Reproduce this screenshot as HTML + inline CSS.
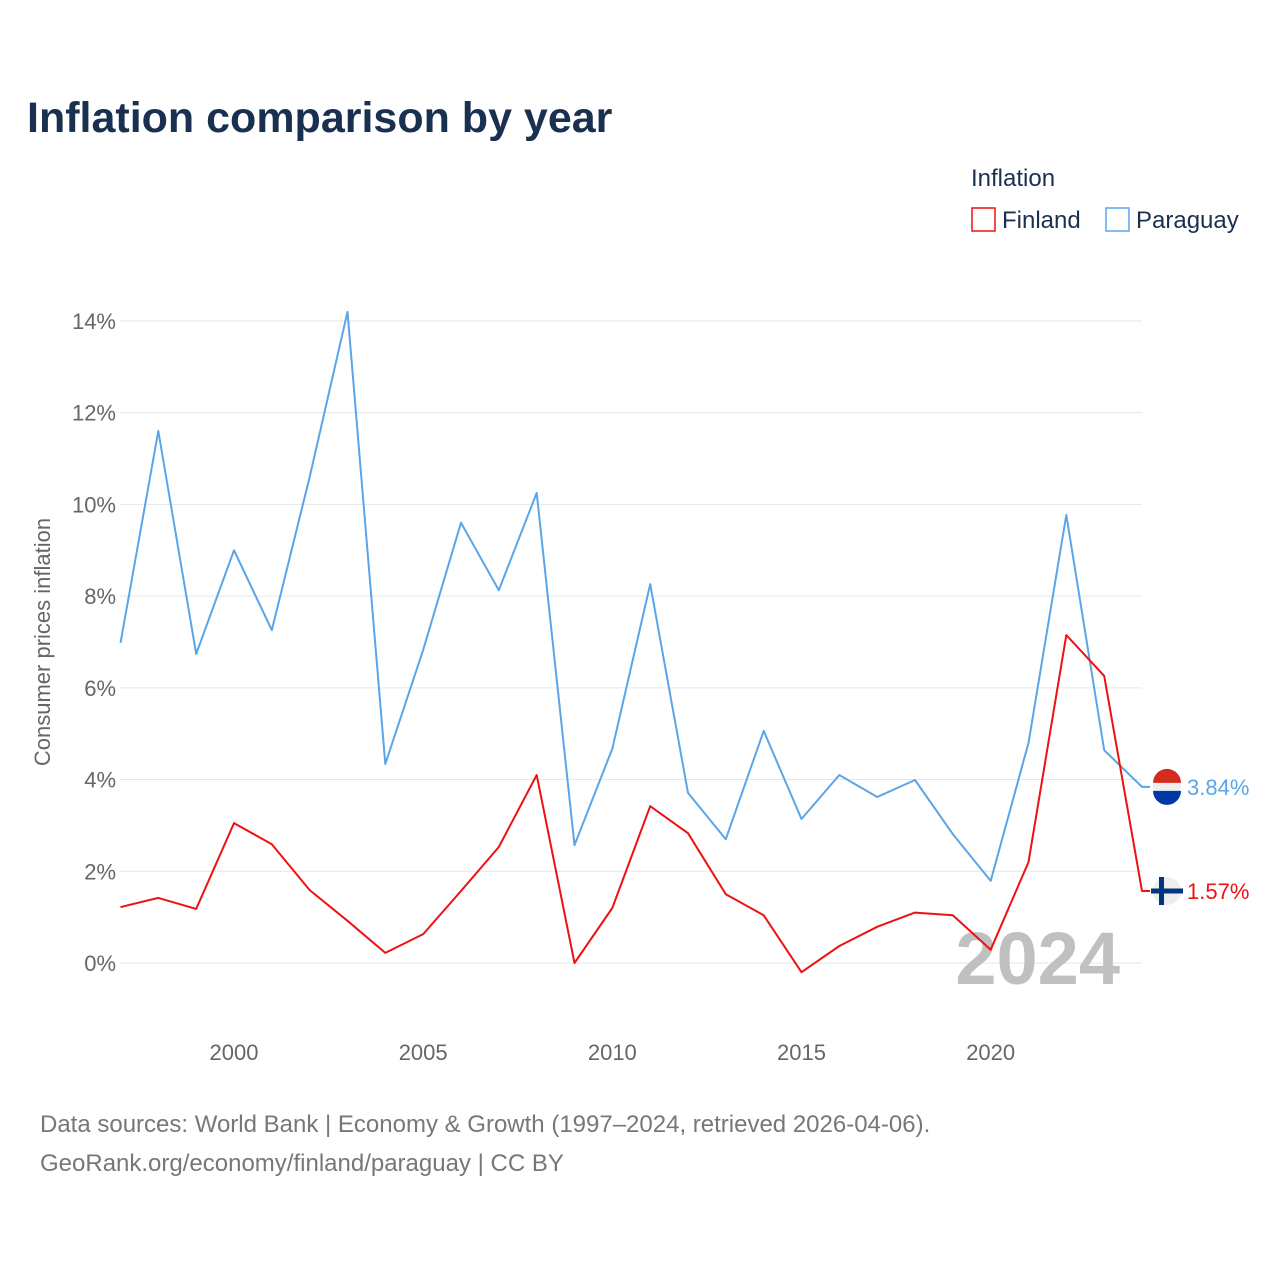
<!DOCTYPE html>
<html><head><meta charset="utf-8"><style>
body{margin:0;background:#fff;font-family:"Liberation Sans",sans-serif;}
svg text{font-family:"Liberation Sans",sans-serif;}
</style></head><body>
<svg id="chart" width="1280" height="1280" viewBox="0 0 1280 1280">
<text x="27" y="132" font-size="43" font-weight="bold" fill="#1a3050">Inflation comparison by year</text>
<text x="971" y="186" font-size="24" fill="#1a3050">Inflation</text>
<g><rect x="972" y="208" width="23" height="23" fill="none" stroke="#ee1111" stroke-width="1.5"/><text x="1002" y="228" font-size="24" fill="#1a3050">Finland</text></g>
<g><rect x="1106" y="208" width="23" height="23" fill="none" stroke="#5aa5e8" stroke-width="1.5"/><text x="1136" y="228" font-size="24" fill="#1a3050">Paraguay</text></g>
<text transform="translate(50,642) rotate(-90)" text-anchor="middle" font-size="22" fill="#666">Consumer prices inflation</text>
<g id="grid"></g><g id="yticks"></g><g id="xticks"></g>
<text x="1120" y="984" text-anchor="end" font-size="74" font-weight="bold" fill="#c0c0c0">2024</text>
<g id="series"></g>
<text x="40" y="1132" font-size="24" fill="#777">Data sources: World Bank | Economy &amp; Growth (1997–2024, retrieved 2026-04-06).</text>
<text x="40" y="1171" font-size="24" fill="#777">GeoRank.org/economy/finland/paraguay | CC BY</text>
</svg>
<script>
const years=[1997,1998,1999,2000,2001,2002,2003,2004,2005,2006,2007,2008,2009,2010,2011,2012,2013,2014,2015,2016,2017,2018,2019,2020,2021,2022,2023,2024];
const paraguay=[6.98,11.6,6.74,9.0,7.26,10.6,14.2,4.34,6.83,9.6,8.13,10.25,2.57,4.67,8.26,3.71,2.7,5.06,3.14,4.1,3.62,3.99,2.81,1.79,4.8,9.77,4.64,3.84];
const finland=[1.22,1.42,1.18,3.05,2.59,1.59,0.92,0.22,0.63,1.57,2.53,4.1,0.0,1.2,3.42,2.83,1.5,1.04,-0.2,0.37,0.79,1.1,1.04,0.29,2.2,7.15,6.26,1.57];
const yTicks=[0,2,4,6,8,10,12,14];
const xTicks=[2000,2005,2010,2015,2020];
const NS="http://www.w3.org/2000/svg";
const x=v=>120.5+(v-1997)*(1142-120.5)/27;
const y=v=>963-v*45.86;
function mk(tag,attrs,parent){const e=document.createElementNS(NS,tag);for(const k in attrs)e.setAttribute(k,attrs[k]);document.getElementById(parent).appendChild(e);return e;}
yTicks.forEach(t=>{
 const l=mk('line',{x1:120,x2:1142,y1:y(t),y2:y(t),stroke:'#e6e6e6','stroke-width':1},'grid');
 
 
 const tx=mk('text',{x:116,y:y(t)+8,'text-anchor':'end','font-size':22,fill:'#666'},'yticks');
 tx.textContent=t+'%';
 
 
});
xTicks.forEach(t=>{
 const tx=mk('text',{x:x(t),y:1060,'text-anchor':'middle','font-size':22,fill:'#666'},'xticks');
 tx.textContent=t;
 
 
});
function series(vals,color,name){
 const d=vals.map((v,i)=>(i?'L':'M')+x(years[i]).toFixed(1)+','+y(v).toFixed(1)).join('')+'L'+(x(2024)+8)+','+y(vals[vals.length-1]).toFixed(1);
 const p=mk('path',{d:d,fill:'none',stroke:color,'stroke-width':2,'stroke-linejoin':'round'},'series');
 
 
 const last=vals[vals.length-1], cy=y(last);
 const c=mk('circle',{cx:1167,cy:cy,r:14,fill:'#eee'},'series');
 
 
 const t=mk('text',{x:1187,y:cy+8,'font-size':22,fill:color},'series');
 t.textContent=last.toFixed(2)+'%';
 
 
 return cy;
}
const cyP=series(paraguay,'#5aa5e8','paraguay');
const cyF=series(finland,'#ee1111','finland');
mk('path',{d:`M1153,${cyP-4}A14,14 0 0 1 1181,${cyP-4}Z`,fill:'#d52b1e'},'series');
mk('path',{d:`M1153,${cyP+4}A14,14 0 0 0 1181,${cyP+4}Z`,fill:'#0038a8'},'series');
mk('rect',{x:1151,y:cyF-2.5,width:32,height:5,fill:'#003580'},'series');
mk('rect',{x:1159,y:cyF-14,width:5,height:28,fill:'#003580'},'series');
</script>
</body></html>
